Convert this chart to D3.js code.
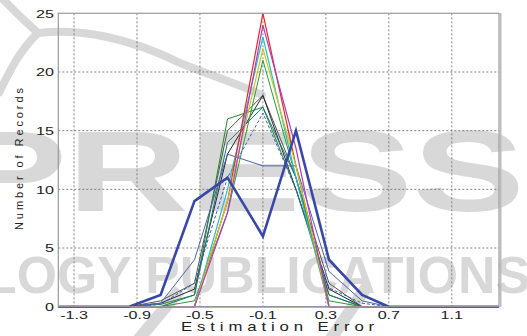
<!DOCTYPE html>
<html><head><meta charset="utf-8">
<script src="https://cdn.jsdelivr.net/npm/d3@7"></script>
<style>body{margin:0;background:#fff}svg{display:block}</style>
</head><body>
<svg id="c" width="527" height="336"></svg>
<script>
// ---- data ----
const xGrid = [-1.4, -0.95, -0.75, -0.535, -0.325, -0.1, 0.11, 0.32, 0.53, 0.7, 1.4];
const xTicks = [-1.3, -0.9, -0.5, -0.1, 0.3, 0.7, 1.1];
const yTicks = [0, 5, 10, 15, 20, 25];
const zero      = [0,0,0,0,0,0,0,0,0,0,0];
const darkGray  = [0,0,0.5,2,15,18,11,2,0,0,0];
const black     = [0,0,0.3,1.5,13,18,10,1.5,0,0,0];
const green1    = [0,0,0.2,1,16,17,10,1,0,0,0];
const green2    = [0,0,0,0.5,8,21,11,0.5,0,0,0];
const teal      = [0,0,0,1,14,17,11,1,0,0,0];
const thinBlue  = [0,0,0.3,4,13,12,12,3,0.5,0,0];
const dashBlue  = [0,0,0.2,2,11,16.5,10,1.6,0.3,0,0];
const cyan      = [0,0,0,0,10,23,11,0,0,0,0];
const red       = [0,0,0,0,9,25,12,0,0,0,0];
const yellow    = [0,0,0,0,9,22,12,0,0,0,0];
const magenta   = [0,0,0,0,8,24,13.5,0,0,0,0];
const thickBlue = [0,0,1,9,11,6,15,4,1,0,0];

const series = [
  {v: zero, c: "#6a72d0", w: 1.5},
  {v: darkGray, c: "#555555", w: 1},
  {v: black, c: "#262626", w: 1},
  {v: green1, c: "#1e8a2a", w: 1},
  {v: green2, c: "#2a9a3a", w: 1},
  {v: teal, c: "#1a7878", w: 1},
  {v: thinBlue, c: "#4a62b8", w: 1},
  {v: dashBlue, c: "#3a58c8", w: 1, d: "3,2"},
  {v: cyan, c: "#20c0c8", w: 1.2},
  {v: red, c: "#e82828", w: 1.2},
  {v: yellow, c: "#c8c81e", w: 1.2},
  {v: magenta, c: "#b040b8", w: 1.2},
  {v: thickBlue, c: "#3848a8", w: 2.6}
];

const svg = d3.select("#c");
const L = 58.3, R = 499, T = 13.3, B = 306.7;
const x = d3.scaleLinear().domain([-1.4, 1.4]).range([L, R]);
const y = d3.scaleLinear().domain([0, 25]).range([B, T]);

// watermark (decorative)
const wmc = "#d8d8d8";
svg.append("path").attr("d", "M2,-2 C15,12 28,24 38,33 C20,50 10,70 -2,95")
  .attr("fill", "none").attr("stroke", wmc).attr("stroke-width", 8);
svg.append("path").attr("d", "M38,33 C80,28 130,38 180,63 C210,75 240,85 262,95")
  .attr("fill", "none").attr("stroke", wmc).attr("stroke-width", 8).attr("stroke-linecap", "round");
svg.append("path").attr("d", "M138,340 L180,290")
  .attr("fill", "none").attr("stroke", wmc).attr("stroke-width", 12);
svg.append("path").attr("d", "M330,340 L368,285")
  .attr("fill", "none").attr("stroke", wmc).attr("stroke-width", 12);
const wm = svg.append("g").attr("fill", wmc).attr("font-family", "Liberation Sans, Arial, sans-serif").attr("font-weight", "bold");
wm.append("text").attr("x", -45).attr("y", 211).attr("font-size", 115).attr("textLength", 570).attr("lengthAdjust", "spacingAndGlyphs").text("PRESS");
wm.append("text").attr("x", -15).attr("y", 293).attr("font-size", 52).attr("textLength", 545).attr("lengthAdjust", "spacingAndGlyphs").text("LOGY PUBLICATIONS");

// grid
const grid = svg.append("g").attr("stroke", "#666").attr("stroke-width", 0.8).attr("stroke-dasharray", "2,2");
grid.selectAll("line.gx").data(xTicks).join("line").attr("x1", d => x(d)).attr("x2", d => x(d)).attr("y1", T).attr("y2", B);
grid.selectAll("line.gy").data(yTicks.filter(d => d > 0 && d < 25)).join("line").attr("y1", d => y(d)).attr("y2", d => y(d)).attr("x1", L).attr("x2", R);

// lines
const line = d3.line().x((d, i) => x(xGrid[i])).y(d => y(d));
svg.append("g").attr("fill", "none").selectAll("path").data(series).join("path")
  .attr("d", d => line(d.v)).attr("stroke", d => d.c).attr("stroke-width", d => d.w)
  .attr("stroke-dasharray", d => d.d || null).attr("stroke-linejoin", "miter");

// frame
svg.append("rect").attr("x", L).attr("y", T).attr("width", R - L).attr("height", B - T)
  .attr("fill", "none").attr("stroke", "#999").attr("stroke-width", 1.2);
svg.append("line").attr("x1", R + 1.5).attr("x2", R + 1.5).attr("y1", T).attr("y2", B).attr("stroke", "#bbb").attr("stroke-width", 2);

// tick labels
const tf = "Liberation Sans, Arial, sans-serif";
svg.append("g").selectAll("text").data(xTicks).join("text")
  .attr("transform", d => `translate(${x(d)},319) scale(1.4,1)`).attr("text-anchor", "middle")
  .attr("font-family", tf).attr("font-size", 11.5).attr("fill", "#222").text(d => d.toFixed(1));
svg.append("g").selectAll("text").data(yTicks).join("text")
  .attr("transform", d => `translate(54,${y(d) + 4.2}) scale(1.4,1)`).attr("text-anchor", "end")
  .attr("font-family", tf).attr("font-size", 11.5).attr("fill", "#222").text(d => d);

// axis titles
svg.append("text").attr("transform", "translate(181,331) scale(1.4,1)").attr("font-family", tf).attr("font-size", 12)
  .attr("fill", "#222").attr("textLength", 138).attr("lengthAdjust", "spacing").text("Estimation Error");
svg.append("text").attr("transform", "translate(23,230) rotate(-90)").attr("font-family", tf).attr("font-size", 11)
  .attr("fill", "#222").attr("textLength", 142).attr("lengthAdjust", "spacing").text("Number of Records");
</script>
</body></html>
